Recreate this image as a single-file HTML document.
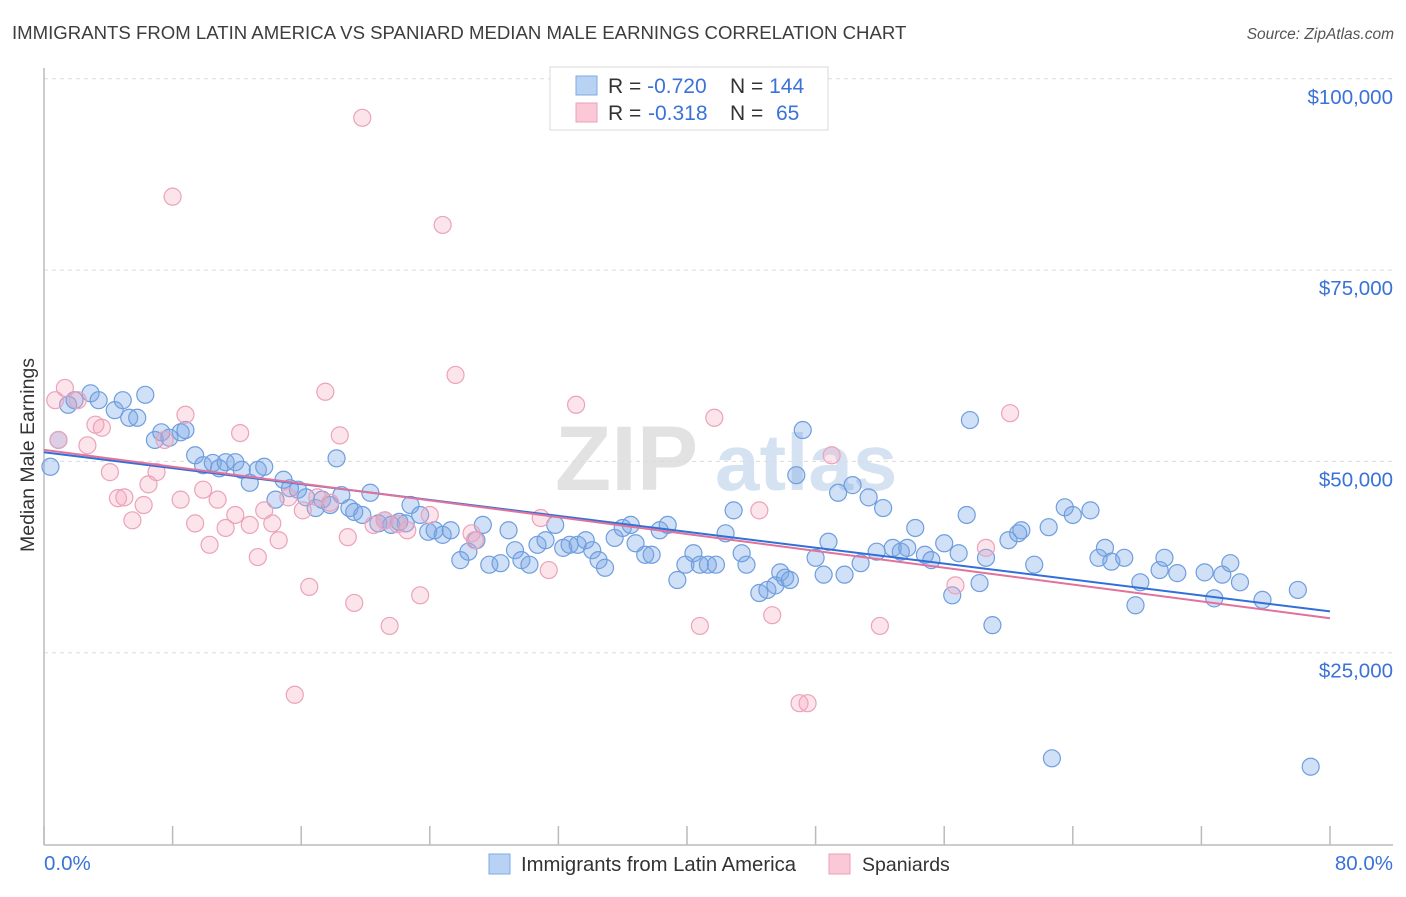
<!DOCTYPE html>
<html><head><meta charset="utf-8">
<style>
html,body{margin:0;padding:0;background:#fff;}
body{width:1406px;height:892px;overflow:hidden;font-family:"Liberation Sans",sans-serif;}
svg text{font-family:"Liberation Sans",sans-serif;}
</style></head>
<body>
<svg id="chart" width="1406" height="892" xmlns="http://www.w3.org/2000/svg">
<text x="12" y="39" font-size="18.6" fill="#3d3d3d">IMMIGRANTS FROM LATIN AMERICA VS SPANIARD MEDIAN MALE EARNINGS CORRELATION CHART</text>
<text x="1394" y="39" font-size="15.5" fill="#555" text-anchor="end" font-style="italic">Source: ZipAtlas.com</text>
<g>
<text x="555" y="490" font-size="92" fill="#e2e2e2" font-family="Liberation Serif" font-weight="bold">ZIP</text>
<text x="715" y="490" font-size="80" fill="#d5e2f2" font-weight="bold">atlas</text>
</g>
<g id="grid"></g>
<g id="axes"></g>
<g id="points"></g>
<g id="trends"></g>
<text transform="translate(34,455) rotate(-90)" font-size="19.5" fill="#333" text-anchor="middle">Median Male Earnings</text>
<g>
<rect x="550" y="67" width="278" height="63" fill="#fff" stroke="#d8d8d8"/>
<rect x="576" y="76" width="21" height="19" fill="#b8d2f4" stroke="#7ea9e3"/>
<rect x="576" y="103" width="21" height="19" fill="#fac8d7" stroke="#ec9fb8"/>
<text x="608" y="93" font-size="21" fill="#333">R = <tspan fill="#3a72d8">-0.720</tspan><tspan x="730">N = </tspan><tspan fill="#3a72d8">144</tspan></text>
<text x="608" y="120" font-size="21" fill="#333">R = <tspan fill="#3a72d8" x="648">-0.318</tspan><tspan x="730">N = </tspan><tspan fill="#3a72d8" x="776">65</tspan></text>
</g>
<g>
<rect x="489" y="854" width="21" height="20" fill="#b8d2f4" stroke="#7ea9e3"/>
<text x="521" y="871" font-size="20.3" fill="#333">Immigrants from Latin America</text>
<rect x="829" y="854" width="21" height="20" fill="#fac8d7" stroke="#ec9fb8"/>
<text x="862" y="871" font-size="19.5" fill="#333">Spaniards</text>
</g>
</svg>
<script>
const blueX=[0.4,0.9,1.5,1.9,2.9,3.4,4.4,4.9,5.3,5.8,6.3,6.9,7.3,7.8,8.5,8.8,9.4,9.9,10.5,10.9,11.3,11.9,12.3,12.8,13.3,13.7,14.4,14.9,15.3,15.8,16.3,16.9,17.3,17.8,18.2,18.5,19.0,19.3,19.8,20.3,20.8,21.2,21.6,22.1,22.5,22.8,23.4,23.9,24.3,24.8,25.3,25.9,26.4,26.9,27.3,27.7,28.4,28.9,29.3,29.7,30.2,30.7,31.2,31.8,32.3,32.7,33.2,33.7,34.1,34.5,34.9,35.5,36.0,36.5,36.8,37.4,37.8,38.3,38.8,39.4,39.9,40.4,40.8,41.3,41.8,42.4,42.9,43.4,43.7,44.5,45.0,45.5,45.8,46.1,46.4,46.8,47.2,48.0,48.5,48.8,49.4,49.8,50.3,50.8,51.3,51.8,52.2,52.8,53.3,53.7,54.2,54.8,55.2,56.0,56.5,56.9,57.4,57.6,58.2,58.6,59.0,60.0,60.6,60.8,61.6,62.5,62.7,63.5,64.0,65.1,65.6,66.0,66.4,67.2,67.9,68.2,69.4,69.7,70.5,72.2,72.8,73.3,73.8,74.4,75.8,78.0,78.8];
const blueY=[49.3,52.8,57.4,58.0,58.9,58.0,56.7,58.0,55.7,55.7,58.7,52.8,53.8,53.1,53.8,54.1,50.8,49.5,49.8,49.1,49.9,49.9,48.9,47.2,48.9,49.3,45.0,47.6,46.5,46.3,45.3,43.9,45.0,44.3,50.4,45.6,43.9,43.4,43.0,45.9,41.9,42.3,41.7,42.1,41.9,44.3,43.0,40.8,41.0,40.4,41.0,37.1,38.2,39.7,41.7,36.5,36.7,41.0,38.4,37.1,36.5,39.1,39.7,41.7,38.7,39.1,39.1,39.7,38.4,37.1,36.1,40.0,41.3,41.7,39.3,37.8,37.8,41.0,41.7,34.5,36.5,38.0,36.5,36.5,36.5,40.6,43.6,38.0,36.5,32.8,33.2,33.8,35.5,34.8,34.5,48.2,54.1,37.4,35.2,39.5,45.9,35.2,46.9,36.7,45.3,38.2,43.9,38.7,38.2,38.7,41.3,37.8,37.1,39.3,32.5,38.0,43.0,55.4,34.1,37.4,28.6,39.7,40.6,41.0,36.5,41.4,11.2,44.0,43.0,43.6,37.4,38.7,36.9,37.4,31.2,34.2,35.8,37.4,35.4,35.5,32.1,35.2,36.7,34.2,31.9,33.2,10.1];
const pinkX=[0.7,1.3,0.9,2.1,2.7,3.2,3.6,4.1,4.6,5.0,5.5,6.2,6.5,7.0,7.5,8.0,8.5,8.8,9.4,9.9,10.3,10.8,11.3,11.9,12.2,12.8,13.3,13.7,14.2,14.6,15.2,15.6,16.1,16.5,17.0,17.5,17.8,18.4,18.9,19.3,19.8,20.5,21.2,21.5,22.0,22.6,23.4,24.0,24.8,25.6,26.6,26.8,30.9,31.4,33.1,40.8,41.7,44.5,45.3,47.0,47.5,49.0,52.0,56.7,58.6,60.1];
const pinkY=[58.0,59.6,52.8,58.0,52.1,54.8,54.4,48.6,45.2,45.3,42.3,44.3,47.0,48.6,52.8,84.6,45.0,56.1,41.9,46.3,39.1,45.0,41.3,43.0,53.7,41.7,37.5,43.6,41.9,39.7,45.3,19.5,43.6,33.6,45.3,59.1,44.6,53.4,40.1,31.5,94.9,41.7,42.3,28.5,41.8,41.0,32.5,43.0,80.9,61.3,40.6,39.7,42.6,35.8,57.4,28.5,55.7,43.6,29.9,18.4,18.4,50.8,28.5,33.8,38.7,56.3];
const blueTrend=[51.2,30.4];
const pinkTrend=[51.5,29.5];
const yTicks=[25,50,75,100];
const yTickLabels=["$25,000","$50,000","$75,000","$100,000"];
const xTicks=[0,8,16,24,32,40,48,56,64,72,80];
const xTickLabels=["0.0%","80.0%"];

const NS="http://www.w3.org/2000/svg";
const X0=44,X1=1330,Y0=844;
const sx=v=>X0+(v/80)*(X1-X0);
const sy=v=>Y0-v*7.652;
function mk(tag,attrs,parent){const e=document.createElementNS(NS,tag);for(const k in attrs)e.setAttribute(k,attrs[k]);parent.appendChild(e);return e;}
const grid=document.getElementById('grid'),axes=document.getElementById('axes'),pts=document.getElementById('points'),tr=document.getElementById('trends');
yTicks.forEach((t,i)=>{
  const l=mk('line',{x1:X0,x2:1393,y1:sy(t),y2:sy(t),stroke:'#dcdcdc','stroke-dasharray':'4,4'},grid);
  
  
  const tx=mk('text',{x:1393,y:sy(t)+25,'font-size':20.5,fill:'#3a72d8','text-anchor':'end'},grid);
  tx.textContent=yTickLabels[i];
  
  
});
const ax=mk('line',{x1:X0,x2:X0,y1:68,y2:Y0+1,stroke:'#bbb','stroke-width':1.5},axes);


const bx=mk('line',{x1:X0,x2:1393,y1:Y0+1,y2:Y0+1,stroke:'#bbb','stroke-width':1.5},axes);


xTicks.forEach(t=>{
  const l=mk('line',{x1:sx(t),x2:sx(t),y1:826,y2:Y0+1,stroke:'#bbb','stroke-width':1.5},axes);
  
  
});
const xl0=mk('text',{x:X0,y:870,'font-size':20.5,fill:'#3a72d8'},axes);xl0.textContent=xTickLabels[0];


const xl1=mk('text',{x:1393,y:870,'font-size':20.5,fill:'#3a72d8','text-anchor':'end'},axes);xl1.textContent=xTickLabels[1];


blueX.forEach((v,i)=>{
  const c=mk('circle',{cx:sx(v),cy:sy(blueY[i]),r:8.5,fill:'rgba(120,165,230,0.35)',stroke:'#6f9ede','stroke-width':1.2},pts);
  
  
});
pinkX.forEach((v,i)=>{
  const c=mk('circle',{cx:sx(v),cy:sy(pinkY[i]),r:8.5,fill:'rgba(245,165,190,0.3)',stroke:'#eca2bb','stroke-width':1.2},pts);
  
  
});
const bl=mk('line',{x1:sx(0),y1:sy(blueTrend[0]),x2:sx(80),y2:sy(blueTrend[1]),stroke:'#3070d8','stroke-width':2},tr);


const pl=mk('line',{x1:sx(0),y1:sy(pinkTrend[0]),x2:sx(80),y2:sy(pinkTrend[1]),stroke:'#e0729c','stroke-width':2},tr);


</script>
</body></html>
